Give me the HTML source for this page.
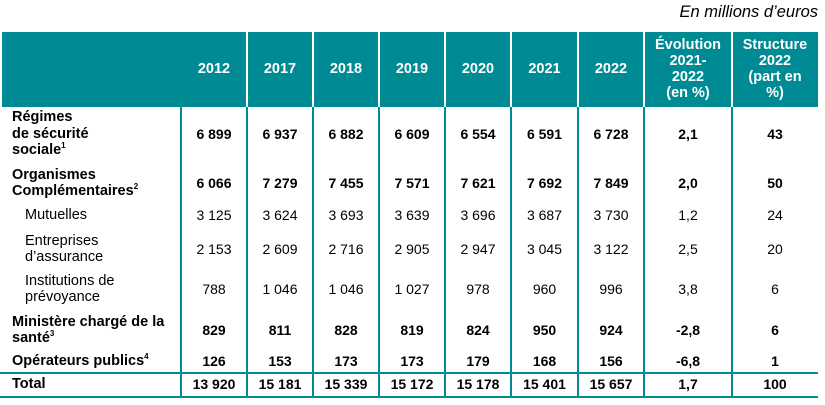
<!DOCTYPE html>
<html><head><meta charset="utf-8">
<style>
body{margin:0;width:825px;height:405px;background:#fff;position:relative;overflow:hidden;font-family:"Liberation Sans",Arial,sans-serif;color:#000}
.a{position:absolute}
.hdr{position:absolute;left:2px;top:32px;width:816px;height:75px;background:#008b94}
.vw{position:absolute;top:32px;height:75px;width:2px;background:#fff}
.vt{position:absolute;top:107px;height:291px;width:2px;background:#008b94}
.ht{position:absolute;left:0;width:818px;height:2px;background:#008b94}
.hc{position:absolute;color:#fff;font-weight:bold;font-size:14.5px;line-height:16px;text-align:center}
.c{position:absolute;font-size:14px;text-align:center;line-height:16px}
.l{position:absolute;font-size:14.5px;line-height:16.5px;left:12px}
.b{font-weight:bold}
sup{font-size:8px;line-height:0}
</style></head><body>
<div class="a" style="right:7px;top:3px;font-size:16.5px;font-style:italic">En millions d’euros</div>
<div class="hdr"></div>
<div id="t"></div>
<script>
const cols=[181,247,313,379,445,511,578,644,732,818];
const headers=["2012","2017","2018","2019","2020","2021","2022","Évolution<br>2021-<br>2022<br>(en %)","Structure<br>2022<br>(part en<br>%)"];
const rowLabels=["Régimes<br>de sécurité<br>sociale<sup>1</sup>","Organismes<br>Complémentaires<sup>2</sup>","Mutuelles","Entreprises<br>d’assurance","Institutions de<br>prévoyance","Ministère chargé de la<br>santé<sup>3</sup>","Opérateurs publics<sup>4</sup>","Total"];
const rowValues=[
["6 899","6 937","6 882","6 609","6 554","6 591","6 728","2,1","43"],
["6 066","7 279","7 455","7 571","7 621","7 692","7 849","2,0","50"],
["3 125","3 624","3 693","3 639","3 696","3 687","3 730","1,2","24"],
["2 153","2 609","2 716","2 905","2 947","3 045","3 122","2,5","20"],
["788","1 046","1 046","1 027","978","960","996","3,8","6"],
["829","811","828","819","824","950","924","-2,8","6"],
["126","153","173","173","179","168","156","-6,8","1"],
["13 920","15 181","15 339","15 172","15 178","15 401","15 657","1,7","100"]];
const rowBold=[1,1,0,0,0,1,1,1];
const rowIndent=[0,0,1,1,1,0,0,0];
const rowCenter=[134,183,215,249,289,330,361,384];
const rowLines=[3,2,1,2,2,2,1,1];
const t=document.getElementById('t');
for(let i=1;i<cols.length-1;i++){
 const w=document.createElement('div');w.className='vw';w.style.left=(cols[i]-1)+'px';
 
 
 t.appendChild(w);
}
cols.slice(0,9).forEach((x,i)=>{
 const v=document.createElement('div');v.className='vt';v.style.left=(x-1)+'px';
 
 
 t.appendChild(v);
});
[372,396].forEach(y=>{
 const h=document.createElement('div');h.className='ht';h.style.top=y+'px';
 
 
 t.appendChild(h);
});
headers.forEach((h,i)=>{
 const d=document.createElement('div');d.className='hc';
 const n=h.split('<br>').length;
 d.style.left=cols[i]+'px';d.style.width=(cols[i+1]-cols[i])+'px';
 d.style.top=(69-n*8)+'px';d.innerHTML=h;
 
 
 t.appendChild(d);
});
rowLabels.forEach((lab,r)=>{
 const L=document.createElement('div');L.className='l'+(rowBold[r]?' b':'');
 L.style.left=(rowIndent[r]?25:12)+'px';
 L.style.top=(rowCenter[r]-rowLines[r]*8.25)+'px';
 L.innerHTML=lab;
 
 
 t.appendChild(L);
 rowValues[r].forEach((v,i)=>{
  const c=document.createElement('div');c.className='c'+(rowBold[r]?' b':'');
  c.style.left=cols[i]+'px';c.style.width=(cols[i+1]-cols[i])+'px';
  c.style.top=(rowCenter[r]-8)+'px';c.textContent=v;
  
  
  t.appendChild(c);
 });
});
</script>
</body></html>
